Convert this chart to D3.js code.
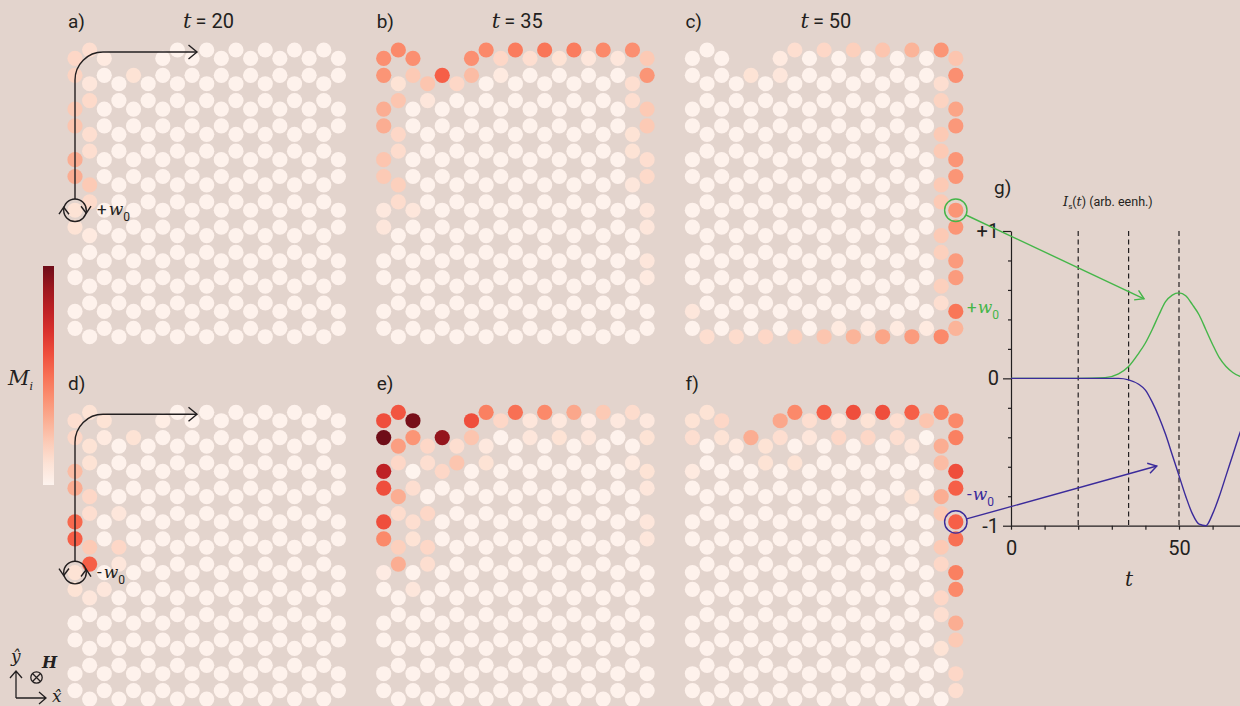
<!DOCTYPE html>
<html>
<head>
<meta charset="utf-8">
<script src="https://cdn.jsdelivr.net/npm/d3@7"></script>
<style>
  body { margin: 0; background: #e3d4cd; }
  svg { display: block; }
  text { font-family: "Roboto", "Open Sans", sans-serif; fill: #231f20; }
  .it { font-family: "DejaVu Serif", "Liberation Serif", serif; font-style: italic; }
</style>
</head>
<body>
<svg id="fig" width="1240" height="706"></svg>
<script>
// Honeycomb lattice: 19 columns, 12 zigzag rows, top row has a notch
const nCols = 19
const nRows = 12
const notchCols = [3, 4, 5]
const baseM = 0.01

const panelNames = ['a)', 'b)', 'c)', 'd)', 'e)', 'f)']
const panelTimes = [20, 35, 50]

// coloured sites per panel: [column, row, M]
const mA = [[0,0,0.15],[1,0,0.12],[2,0,0.06],[0,1,0.17],[1,1,0.08],[4,1,0.1],[1,2,0.14],[0,2,0.2],
  [0,3,0.22],[1,3,0.12],[1,4,0.12],[0,4,0.3],[0,5,0.3],[1,5,0.2],[1,6,0.14],[0,6,0.1],[0,7,0.1],[1,7,0.06]]
const mB = [[0,0,0.4],[1,0,0.42],[2,0,0.4],[6,0,0.4],[7,0,0.42],[8,0,0.15],[9,0,0.46],[10,0,0.12],[11,0,0.48],
  [12,0,0.1],[13,0,0.46],[14,0,0.08],[15,0,0.42],[16,0,0.08],[17,0,0.4],[18,0,0.2],
  [0,1,0.38],[1,1,0.1],[2,1,0.2],[3,1,0.22],[4,1,0.55],[5,1,0.15],[6,1,0.25],[8,1,0.06],[17,1,0.12],[18,1,0.38],
  [1,2,0.22],[0,2,0.3],[3,2,0.08],[17,2,0.12],[18,2,0.2],[0,3,0.3],[1,3,0.15],[17,3,0.1],[18,3,0.2],
  [1,4,0.13],[0,4,0.22],[17,4,0.1],[18,4,0.12],[0,5,0.2],[1,5,0.18],[17,5,0.08],[18,5,0.14],
  [1,6,0.13],[0,6,0.07],[2,6,0.08],[18,6,0.08],[0,7,0.08],[18,7,0.08],[18,8,0.08],[18,9,0.06]]
const mC = [[6,0,0.06],[7,0,0.12],[9,0,0.15],[11,0,0.18],[13,0,0.22],[15,0,0.28],[17,0,0.38],[18,0,0.22],
  [4,1,0.1],[6,1,0.08],[17,1,0.12],[18,1,0.4],[17,2,0.17],[18,2,0.33],[18,3,0.37],[17,3,0.2],
  [17,4,0.2],[18,4,0.38],[18,5,0.38],[17,5,0.2],[17,6,0.2],[18,6,0.38],[18,7,0.38],[17,7,0.2],
  [17,8,0.18],[18,8,0.36],[18,9,0.36],[17,9,0.18],[17,10,0.12],[18,10,0.48],[0,10,0.08],
  [1,11,0.12],[3,11,0.13],[5,11,0.15],[7,11,0.18],[9,11,0.22],[11,11,0.28],[13,11,0.33],[15,11,0.36],
  [17,11,0.42],[18,11,0.28],[10,11,0.06],[12,11,0.06],[14,11,0.06],[16,11,0.06]]
const mD = [[0,0,0.12],[1,0,0.1],[2,0,0.1],[6,0,0.04],[0,1,0.15],[1,1,0.1],[2,1,0.06],[4,1,0.1],
  [1,2,0.1],[0,2,0.25],[0,3,0.3],[1,3,0.15],[1,4,0.12],[0,4,0.52],[3,4,0.08],[0,5,0.55],[1,5,0.2],[3,5,0.15],
  [1,6,0.55],[0,6,0.1],[3,6,0.08],[0,7,0.1],[1,7,0.08],[2,7,0.08]]
const mE = [[0,0,0.6],[1,0,0.58],[2,0,0.98],[6,0,0.6],[7,0,0.45],[8,0,0.15],[9,0,0.5],[10,0,0.08],[11,0,0.42],
  [12,0,0.07],[13,0,0.32],[14,0,0.05],[15,0,0.2],[16,0,0.07],[17,0,0.13],[18,0,0.07],
  [0,1,1.0],[1,1,0.35],[2,1,0.38],[3,1,0.15],[4,1,0.92],[5,1,0.12],[6,1,0.22],[7,1,0.07],[10,1,0.08],
  [12,1,0.1],[14,1,0.08],[18,1,0.1],
  [1,2,0.15],[0,2,0.8],[2,2,0.0],[3,2,0.12],[4,2,0.15],[5,2,0.22],[7,2,0.1],[18,2,0.1],[17,2,0.06],
  [0,3,0.6],[1,3,0.3],[2,3,0.12],[18,3,0.08],[1,4,0.13],[0,4,0.6],[2,4,0.12],[3,4,0.15],[18,4,0.08],
  [0,5,0.42],[1,5,0.18],[2,5,0.1],[3,5,0.15],[18,5,0.08],[1,6,0.3],[0,6,0.05],[3,6,0.12],[2,7,0.08]]
const mF = [[0,0,0.1],[1,0,0.1],[2,0,0.15],[6,0,0.32],[7,0,0.42],[8,0,0.12],[9,0,0.55],[10,0,0.08],[11,0,0.6],
  [12,0,0.1],[13,0,0.6],[14,0,0.12],[15,0,0.55],[16,0,0.22],[17,0,0.45],[18,0,0.42],
  [0,1,0.12],[2,1,0.1],[3,1,0.06],[4,1,0.3],[5,1,0.1],[6,1,0.12],[8,1,0.08],[10,1,0.15],[12,1,0.15],
  [14,1,0.12],[15,1,0.08],[16,1,0.0],[17,1,0.3],[18,1,0.45],
  [0,2,0.06],[5,2,0.1],[7,2,0.1],[17,2,0.25],[18,2,0.6],[18,3,0.55],[17,3,0.3],[15,3,0.1],
  [17,4,0.2],[18,4,0.55],[18,5,0.5],[17,5,0.2],[17,6,0.15],[18,6,0.45],[18,7,0.42],[17,7,0.15],
  [18,8,0.3],[17,8,0.12],[18,9,0.2],[17,9,0.1],[18,10,0.15],[18,11,0.12]]
const panelData = [mA, mB, mC, mD, mE, mF]

// I_s(t) curves of panel g
const tVals  = [0, 10, 20, 28, 32, 35, 38, 40, 42, 44, 46, 48, 50, 52, 54, 56, 58, 60, 62, 64, 66, 68, 70]
const plusW  = [0, 0, 0, 0.005, 0.03, 0.08, 0.17, 0.24, 0.33, 0.43, 0.52, 0.565, 0.58, 0.56, 0.5, 0.43, 0.33, 0.23, 0.14, 0.08, 0.04, 0.015, 0.005]
const minusW = [0, 0, 0, 0, 0, -0.01, -0.04, -0.08, -0.16, -0.26, -0.38, -0.52, -0.66, -0.8, -0.92, -0.99, -1.0, -0.92, -0.8, -0.66, -0.52, -0.38, -0.25]
const markTimes = [20, 35, 50]
const yMajor = [-1, 0, 1]
const yMajorLabels = ['-1', '0', '+1']
const yMinor = [-0.8, -0.6, -0.4, -0.2, 0.2, 0.4, 0.6, 0.8]
const xMajor = [0, 50]
const xMinor = [10, 20, 30, 40, 60]

const green = '#45b649'
const blue = '#3b2b9b'
const ink = '#231f20'

const svg = d3.select('#fig')

// lattice geometry
const colX = d3.scaleLinear().domain([0, 18]).range([0, 263.4])
const rowY = d3.scaleLinear().domain([0, 1]).range([0, 25.3])
const panelX = d3.scaleLinear().domain([0, 1]).range([75, 383.7])
const panelY = [50, 412.3]
const siteRow = (c, r) => r + ((c + r) % 2 === 1 ? 0 : 1 / 3)
const siteXY = (p, c, r) => [panelX(p % 3) + colX(c), panelY[Math.floor(p / 3)] + rowY(siteRow(c, r))]

const color = d3.scaleSequential(d3.interpolateReds).domain([0, 1])

panelData.forEach((list, p) => {
    const lookup = new Map(list.map(d => [d[0] + ',' + d[1], d[2]]))
    const sites = []
    for (let r = 0; r < nRows; r++) {
        for (let c = 0; c < nCols; c++) {
            if (r === 0 && notchCols.includes(c)) continue
            const key = c + ',' + r
            sites.push({c: c, r: r, m: lookup.has(key) ? lookup.get(key) : baseM})
        }
    }
    const g = svg.append('g')
        .attr('transform', `translate(${panelX(p % 3)}, ${panelY[Math.floor(p / 3)]})`)
    g.selectAll('circle')
        .data(sites)
        .join('circle')
        .attr('cx', d => colX(d.c))
        .attr('cy', d => rowY(siteRow(d.c, d.r)))
        .attr('r', 7.6)
        .attr('fill', d => color(d.m))
        .attr('fill-opacity', 0.94)

    // panel label
    svg.append('text')
        .attr('x', panelX(p % 3) - 7)
        .attr('y', panelY[Math.floor(p / 3)] - 22)
        .attr('font-size', 19)
        .text(panelNames[p])
    if (p < 3) {
        const t = svg.append('text')
            .attr('x', panelX(p % 3) + 108)
            .attr('y', 28)
            .attr('font-size', 20)
        t.append('tspan').attr('class', 'it').attr('font-size', 21).text('t')
        t.append('tspan').text('\u2009= ' + panelTimes[p])
    }
})

// Colour bar
const grad = svg.append('defs').append('linearGradient')
    .attr('id', 'cbar').attr('x1', 0).attr('y1', 1).attr('x2', 0).attr('y2', 0)
d3.range(0, 1.01, 0.1).forEach(v => {
    grad.append('stop').attr('offset', v).attr('stop-color', color(v)).attr('stop-opacity', 0.94)
})
svg.append('rect')
    .attr('x', 43).attr('y', 266).attr('width', 11).attr('height', 219)
    .attr('fill', 'url(#cbar)')
const mLabel = svg.append('text').attr('x', 8).attr('y', 385).attr('class', 'it').attr('font-size', 21)
mLabel.append('tspan').text('M')
mLabel.append('tspan').attr('font-size', 11).attr('dy', 5).text('i')

// Spin-wave source arrows in panels a and d
const arrowG = svg.append('g').attr('fill', 'none').attr('stroke', ink).attr('stroke-width', 1.4)
;[0, 1].forEach(k => {
    const [cx, cy] = siteXY(k * 3, 0, 6)
    const top = panelY[k] + 2
    arrowG.append('path')
        .attr('d', `M${cx},${cy - 11} V${top + 28} A28,28 0 0 1 ${cx + 28},${top} H${cx + 122}`)
    arrowG.append('path')
        .attr('d', `M${cx + 113.5},${top - 7} L${cx + 122},${top} L${cx + 113.5},${top + 7}`)
    arrowG.append('circle').attr('cx', cx).attr('cy', cy).attr('r', 11.3)
    const s = k === 0 ? 1 : -1
    // rotation chevrons on the circle
    arrowG.append('path')
        .attr('d', `M${cx - 16},${cy + 4 * s} L${cx - 11.3},${cy - 3 * s} L${cx - 6},${cy + 4 * s}`)
    arrowG.append('path')
        .attr('d', `M${cx + 6},${cy - 4 * s} L${cx + 11.3},${cy + 3 * s} L${cx + 16},${cy - 4 * s}`)
    const lab = svg.append('text').attr('x', cx + 22).attr('y', cy + 5).attr('font-size', 17)
    lab.append('tspan').text(k === 0 ? '+' : '-')
    lab.append('tspan').attr('class', 'it').attr('dx', 2).text('w')
    lab.append('tspan').attr('font-size', 12).attr('dy', 6).text('0')
})

// Coordinate icon
const ico = svg.append('g').attr('fill', 'none').attr('stroke', ink).attr('stroke-width', 1.3)
ico.append('path').attr('d', 'M16,698 V671 M10,678 L16,671 L22,678')
ico.append('path').attr('d', 'M16,698 H46 M39,692 L46,698 L39,704')
ico.append('circle').attr('cx', 36.5).attr('cy', 677.5).attr('r', 5.7)
ico.append('path').attr('d', 'M32.5,673.5 L40.5,681.5 M40.5,673.5 L32.5,681.5')
svg.append('text').attr('class', 'it').attr('x', 11).attr('y', 662).attr('font-size', 17).text('\u0177')
svg.append('text').attr('class', 'it').attr('x', 52).attr('y', 702).attr('font-size', 17).text('x\u0302')
svg.append('text').attr('class', 'it').attr('x', 42).attr('y', 668).attr('font-size', 16)
    .attr('font-weight', 'bold').text('H')

// Panel g
const xG = d3.scaleLinear().domain([0, 50]).range([1011, 1179])
const yG = d3.scaleLinear().domain([-1, 1]).range([525.7, 231])

svg.append('text').attr('x', 994).attr('y', 194).attr('font-size', 19).text('g)')
const title = svg.append('text').attr('x', 1063).attr('y', 206).attr('font-size', 12.5)
title.append('tspan').attr('class', 'it').attr('font-size', 13).text('I')
title.append('tspan').attr('font-size', 8).attr('dy', 3).text('s')
title.append('tspan').attr('dy', -3).text('(')
title.append('tspan').attr('class', 'it').attr('font-size', 13).text('t')
title.append('tspan').text(') (arb. eenh.)')

svg.append('g').attr('transform', `translate(${xG(0)},0)`)
    .call(d3.axisLeft(yG).tickValues(yMajor).tickSize(8).tickSizeOuter(0).tickPadding(4)
        .tickFormat((d, i) => yMajorLabels[i]))
svg.append('g').attr('transform', `translate(${xG(0)},0)`)
    .call(d3.axisLeft(yG).tickValues(yMinor).tickSize(3).tickFormat(''))
    .select('.domain').remove()
svg.append('g').attr('transform', `translate(0,${yG(-1)})`)
    .call(d3.axisBottom(d3.scaleLinear().domain([0, 70]).range([1011, 1246.2]))
        .tickValues(xMajor).tickSize(4).tickSizeOuter(0).tickPadding(11))
svg.append('g').attr('transform', `translate(0,${yG(-1)})`)
    .call(d3.axisBottom(xG).tickValues(xMinor).tickSize(4).tickFormat(''))
    .select('.domain').remove()
svg.selectAll('.tick text').attr('font-size', 20).attr('fill', ink)
    .style('font-family', '"Roboto", "Open Sans", sans-serif')
svg.selectAll('.domain, .tick line').attr('stroke', ink).attr('stroke-width', 1.2)

svg.append('text').attr('class', 'it').attr('x', 1125).attr('y', 586).attr('font-size', 20).text('t')

svg.append('g').selectAll('line')
    .data(markTimes)
    .join('line')
    .attr('x1', d => xG(d)).attr('x2', d => xG(d))
    .attr('y1', yG(1)).attr('y2', yG(-1))
    .attr('stroke', ink).attr('stroke-width', 1.2).attr('stroke-dasharray', '5,3.5')

const line = d3.line().x(d => xG(d[0])).y(d => yG(d[1])).curve(d3.curveMonotoneX)
svg.append('path').datum(tVals.map((t, i) => [t, plusW[i]]))
    .attr('d', line).attr('fill', 'none').attr('stroke', green).attr('stroke-width', 1.4)
svg.append('path').datum(tVals.map((t, i) => [t, minusW[i]]))
    .attr('d', line).attr('fill', 'none').attr('stroke', blue).attr('stroke-width', 1.4)

// Probe circles with pointer arrows
const probes = [
    {p: 2, c: 18, r: 6, col: green, tip: [39.6, 0.54], lab: '+', ly: 313},
    {p: 5, c: 18, r: 4, col: blue, tip: [43.4, -0.595], lab: '-', ly: 500}
]
probes.forEach(d => {
    const [cx, cy] = siteXY(d.p, d.c, d.r)
    const tx = xG(d.tip[0]), ty = yG(d.tip[1])
    const ang = Math.atan2(ty - cy, tx - cx)
    svg.append('circle').attr('cx', cx).attr('cy', cy).attr('r', 11.2)
        .attr('fill', 'none').attr('stroke', d.col).attr('stroke-width', 1.4)
    svg.append('line')
        .attr('x1', cx + 11.2 * Math.cos(ang)).attr('y1', cy + 11.2 * Math.sin(ang))
        .attr('x2', tx).attr('y2', ty)
        .attr('stroke', d.col).attr('stroke-width', 1.4)
    const h = 10, w = 0.55
    svg.append('path')
        .attr('d', `M${tx - h * Math.cos(ang - w)},${ty - h * Math.sin(ang - w)} L${tx},${ty} L${tx - h * Math.cos(ang + w)},${ty - h * Math.sin(ang + w)}`)
        .attr('fill', 'none').attr('stroke', d.col).attr('stroke-width', 1.4)
    const lab = svg.append('text').attr('x', 967).attr('y', d.ly).attr('font-size', 17)
    lab.append('tspan').attr('fill', d.col).text(d.lab)
    lab.append('tspan').attr('class', 'it').attr('fill', d.col).attr('dx', 1).text('w')
    lab.append('tspan').attr('fill', d.col).attr('font-size', 12).attr('dy', 6).text('0')
})
</script>
</body>
</html>
